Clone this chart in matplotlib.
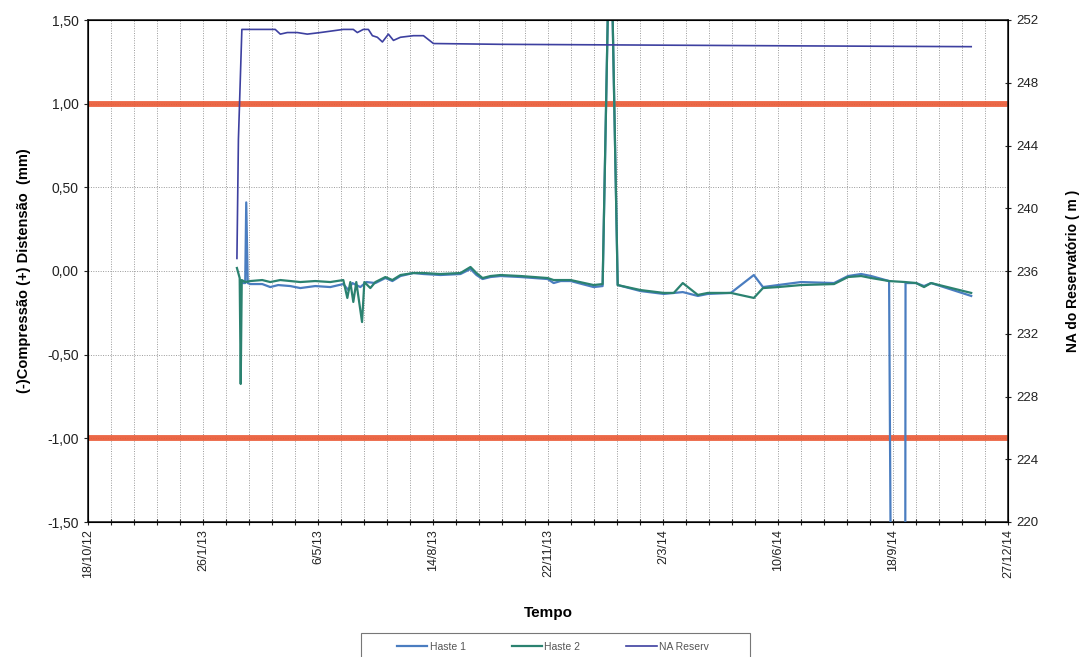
import datetime as dt

import matplotlib

matplotlib.use("Agg")
import matplotlib.pyplot as plt
from matplotlib.patches import Rectangle
from matplotlib.ticker import FuncFormatter, MultipleLocator

plt.rcParams["font.family"] = ["Liberation Sans", "DejaVu Sans"]

START = dt.date(2012, 10, 18)

# days since 18/10/12
na_days = [129.5, 130.8, 133.8, 136.7, 162.8, 167.2, 173.3, 182.0, 190.7, 202.0, 222.0,
           230.7, 234.2, 239.4, 243.8, 247.3, 251.6, 256.0, 261.2, 265.6, 271.7, 283.0,
           291.7, 300.4, 358.7, 620.0, 768.0]
na_vals = [236.8, 244.4, 251.4, 251.4, 251.4, 251.1, 251.2, 251.2, 251.1, 251.2, 251.4,
           251.4, 251.2, 251.4, 251.4, 251.0, 250.9, 250.6, 251.1, 250.7, 250.9, 251.0,
           251.0, 250.5, 250.45, 250.35, 250.3]

h1_days = [133.7, 136.7, 137.6, 138.9, 141.1, 151.5, 158.5, 165.4, 175.9, 184.6, 197.6,
           210.7, 222.0, 226.4, 229.9, 236.8, 242.1, 249.9, 258.6, 264.7, 271.7, 283.0,
           291.7, 306.5, 323.9, 332.6, 337.8, 343.1, 350.0, 358.7, 376.1, 399.7, 404.9,
           411.0, 419.7, 439.7, 447.5, 454.1, 460.6, 480.6, 500.7, 517.2, 530.3, 539.0,
           559.0, 579.0, 586.9, 600.0, 620.0, 648.7, 660.9, 672.3, 681.0, 696.6, 699.1,
           710.5, 710.9, 720.1, 727.0, 733.1, 768.0]
h1_vals = [-0.072, -0.072, 0.41, -0.072, -0.078, -0.078, -0.096, -0.084, -0.090, -0.102, -0.090,
           -0.096, -0.078, -0.114, -0.072, -0.096, -0.066, -0.072, -0.042, -0.060, -0.030, -0.012,
           -0.018, -0.024, -0.018, 0.012, -0.024, -0.048, -0.036, -0.030, -0.036, -0.048, -0.072,
           -0.060, -0.060, -0.096, -0.090, 2.28, -0.084, -0.120, -0.137, -0.126, -0.149, -0.137,
           -0.131, -0.024, -0.096, -0.084, -0.066, -0.072, -0.030, -0.018, -0.030, -0.060, -3.0,
           -3.0, -0.072, -0.072, -0.090, -0.072, -0.149]

h2_days = [129.5, 131.9, 132.8, 133.7, 136.7, 141.1, 151.5, 158.5, 167.2, 175.9, 184.6,
           197.6, 210.7, 222.0, 225.5, 228.1, 230.7, 233.3, 238.3, 240.3, 245.5, 249.9,
           258.6, 264.7, 271.7, 283.0, 291.7, 306.5, 323.9, 332.6, 337.8, 343.1, 350.0,
           358.7, 376.1, 399.7, 404.9, 419.7, 439.7, 447.5, 454.1, 460.6, 480.6, 500.7,
           509.4, 517.2, 530.3, 539.0, 559.0, 579.0, 586.9, 600.0, 620.0, 648.7, 660.9,
           672.3, 681.0, 696.6, 710.5, 720.1, 727.0, 733.1, 768.0]
h2_vals = [0.018, -0.042, -0.675, -0.054, -0.066, -0.060, -0.054, -0.066, -0.054, -0.060, -0.066,
           -0.060, -0.066, -0.054, -0.161, -0.066, -0.185, -0.066, -0.305, -0.066, -0.102, -0.066,
           -0.036, -0.054, -0.024, -0.012, -0.012, -0.018, -0.012, 0.024, -0.012, -0.042, -0.030,
           -0.024, -0.030, -0.042, -0.054, -0.054, -0.084, -0.078, 2.28, -0.084, -0.114, -0.131,
           -0.131, -0.072, -0.143, -0.131, -0.131, -0.161, -0.102, -0.096, -0.084, -0.078, -0.036,
           -0.030, -0.042, -0.060, -0.066, -0.072, -0.096, -0.072, -0.131]

limit_lines = [1.0, -1.0]

C_H1 = "#4a7dc0"
C_H2 = "#2b8270"
C_NA = "#3d40a0"
C_RED = "#ea5b37"


def date_label(x, pos):
    d = START + dt.timedelta(days=int(round(x)))
    return f"{d.day}/{d.month}/{d.strftime('%y')}"


def comma_label(v, pos):
    return f"{v:.2f}".replace(".", ",")


fig = plt.figure(figsize=(10.82, 6.57), dpi=100)
ax = fig.add_axes([88 / 1082, 1 - 522 / 657, 920 / 1082, 502 / 657])
ax2 = ax.twinx()

ax.set_xlim(0, 800)
ax.set_ylim(-1.5, 1.5)
ax2.set_ylim(220, 252)

ax.xaxis.set_major_locator(MultipleLocator(100))
ax.xaxis.set_minor_locator(MultipleLocator(20))
ax.xaxis.set_major_formatter(FuncFormatter(date_label))
ax.yaxis.set_major_locator(MultipleLocator(0.5))
ax.yaxis.set_major_formatter(FuncFormatter(comma_label))
ax2.yaxis.set_major_locator(MultipleLocator(4))

ax.grid(True, which="both", axis="x", color="#9a9a9a", lw=0.7, ls=(0, (1, 1.5)))
ax.grid(True, which="major", axis="y", color="#9a9a9a", lw=0.7, ls=(0, (1, 1.5)))
ax.set_axisbelow(True)

for y in limit_lines:
    ax.axhline(y, color=C_RED, lw=4.2, alpha=0.92, zorder=2)

ax.plot(h1_days, h1_vals, color=C_H1, lw=1.6, zorder=3, label="Haste 1")
ax.plot(h2_days, h2_vals, color=C_H2, lw=1.6, zorder=4, label="Haste 2")
ax2.plot(na_days, na_vals, color=C_NA, lw=1.2, label="NA Reserv")

for spine in ax.spines.values():
    spine.set_color("#222222")
    spine.set_linewidth(1.2)

ax.tick_params(axis="x", which="both", direction="inout", length=4, width=0.8,
               labelsize=9, labelrotation=90, pad=3, colors="#222222")
ax.tick_params(axis="y", direction="out", length=3, labelsize=10, colors="#222222")
ax2.tick_params(axis="y", direction="inout", length=5, labelsize=9.5, colors="#222222")

ax.set_xlabel("Tempo", fontsize=11, fontweight="bold", labelpad=20)
ax.set_ylabel("(-)Compressão (+) Distensão  (mm)", fontsize=10.5, fontweight="bold", labelpad=12)
ax2.set_ylabel("NA do Reservatório ( m )", fontsize=10, fontweight="bold", labelpad=20)

# legend box (cut off by the bottom edge, as in the original)
fig.patches.append(Rectangle((361 / 1082, -0.02), 389 / 1082, 1 - 633 / 657 + 0.02,
                             transform=fig.transFigure, facecolor="white",
                             edgecolor="#777777", lw=0.8))
handles = ax.get_lines()[-2:] + ax2.get_lines()
fig.legend(handles, [h.get_label() for h in handles], loc="center",
           bbox_to_anchor=(553 / 1082, 1 - 647 / 657), ncol=3, fontsize=7.5,
           handlelength=2.9, handletextpad=0.25, columnspacing=4.4, frameon=False,
           borderpad=0.0, labelcolor="#555555")

fig.savefig("out.png", dpi=100)
